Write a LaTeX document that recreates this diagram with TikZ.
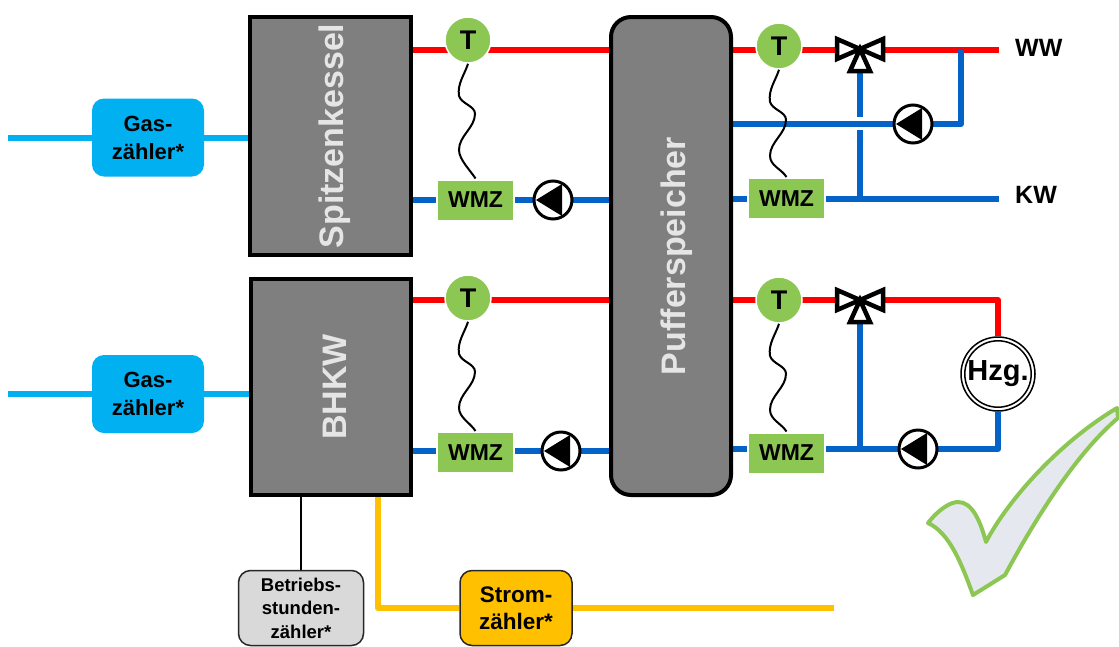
\documentclass[tikz,border=0pt]{standalone}
\usepackage{fontspec}
\usepackage{graphicx}
\setmainfont{Liberation Sans}
\usepackage{tikz}
\usetikzlibrary{backgrounds}
\definecolor{rohrrot}{HTML}{FF0000}
\definecolor{rohrblau}{HTML}{0563C8}
\definecolor{gasblau}{HTML}{00B0F0}
\definecolor{stromgelb}{HTML}{FFC000}
\definecolor{wmzgruen}{HTML}{8CC653}
\definecolor{kesselgrau}{HTML}{7F7F7F}
\definecolor{hakengrau}{HTML}{E6E8F0}
\newcommand{\fuehler}[2]{\draw[line width=2pt] (#1.south) .. controls +(-3,10) and +(-2,-12) .. ++(-9,32) .. controls +(2,8) and +(0,-8) .. ++(16,18) .. controls +(0,14) and +(0,-14) .. ++(-16,36) .. controls +(0,10) and +(-5,-8) .. (#2.north);}
\begin{document}
\begin{tikzpicture}[x=1pt,y=-1pt]
\tikzstyle{kessel}=[rectangle,draw=black,line width=4pt,fill=kesselgrau,inner sep=0pt,text=white!90!black,font=\fontsize{34}{34}\selectfont\bfseries]
\tikzstyle{zaehler}=[rectangle,rounded corners=12pt,minimum width=112pt,minimum height=78pt,inner sep=0pt,align=center,text depth=0pt,font=\fontsize{22}{28}\selectfont\bfseries]
\tikzstyle{gaszaehler}=[zaehler,fill=gasblau]
\tikzstyle{stromzaehler}=[zaehler,draw=black!85,line width=1.5pt,fill=stromgelb,minimum height=75pt,font=\fontsize{22.5}{27}\selectfont\bfseries]
\tikzstyle{stundenzaehler}=[zaehler,draw=black!85,line width=1.5pt,fill=black!15,minimum width=125pt,minimum height=75pt,font=\fontsize{18.5}{23.5}\selectfont\bfseries]
\tikzstyle{wmz}=[rectangle,draw=white,line width=2pt,fill=wmzgruen,minimum width=77pt,minimum height=41pt,inner sep=0pt,font=\fontsize{23}{23}\selectfont\bfseries]
\tikzstyle{tfuehler}=[circle,draw=white,line width=1.5pt,fill=wmzgruen,minimum size=46pt,inner sep=0pt,font=\fontsize{27}{27}\selectfont\bfseries]
\tikzstyle{pumpe}=[circle,draw=black,line width=3pt,fill=white,minimum size=38pt,inner sep=0pt,path picture={\fill[black,shift={(path picture bounding box.center)}] (-17,0) -- (9,-16) -- (9,16) -- cycle;}]
\tikzstyle{mischer}=[rectangle,minimum size=54pt,inner sep=0pt,path picture={\draw[black,fill=white,line width=4.5pt,line join=miter,shift={(path picture bounding box.center)}] (0,0) -- (-23,-10) -- (-23,10) -- cycle (0,0) -- (23,-10) -- (23,10) -- cycle (0,0) -- (-10,22) -- (10,22) -- cycle;}]
\tikzstyle{anschluss}=[anchor=west,inner sep=0pt,inner xsep=16pt,text depth=0pt,font=\fontsize{25}{25}\selectfont\bfseries]
\tikzstyle{rot}=[rohrrot,line width=6pt]
\tikzstyle{blau}=[rohrblau,line width=6pt]
\tikzstyle{gas}=[gasblau,line width=6pt]
\tikzstyle{strom}=[stromgelb,line width=6pt]
\useasboundingbox (0,0) rectangle (1119,646);
% Erzeuger und Speicher
\node[kessel,minimum width=161pt,minimum height=238pt] (spitz) at (330.5,136) {\hspace*{8pt}\rotatebox{90}{Spitzenkessel}};
\node[kessel,minimum width=160pt,minimum height=216pt] (bhkw) at (331,387) {\hspace*{7pt}\rotatebox{90}{BHKW}};
\node[kessel,rounded corners=20pt,minimum width=120pt,minimum height=478pt] (puffer) at (671,256) {\hspace*{12pt}\rotatebox{90}{Pufferspeicher}};
% Zaehler
\node[gaszaehler] (gas1) at (148,137.5) {Gas-\\zähler*};
\node[gaszaehler] (gas2) at (148,394) {Gas-\\zähler*};
\node[stundenzaehler] (stunden) at (301,608) {Betriebs-\\stunden-\\zähler*};
\node[stromzaehler] (strom) at (516,608) {Strom-\\zähler*};
% Waermemengenzaehler und Fuehler
\node[wmz] (wmz1) at (475.5,200) {WMZ};
\node[wmz] (wmz2) at (475.5,452.5) {WMZ};
\node[wmz] (wmz3) at (786.5,198.5) {WMZ};
\node[wmz] (wmz4) at (786.5,453) {WMZ};
\node[tfuehler] (t1) at (468,40) {T};
\node[tfuehler] (t2) at (468,298) {T};
\node[tfuehler] (t3) at (779,46) {T};
\node[tfuehler] (t4) at (779,300) {T};
% Pumpen und Mischer
\node[pumpe] (pumpe1) at (553,200) {};
\node[pumpe] (pumpe2) at (561,451) {};
\node[pumpe] (pumpe3) at (913,124) {};
\node[pumpe] (pumpe4) at (918,449) {};
\node[mischer] (misch1) at (860,49) {};
\node[mischer] (misch2) at (860,300) {};
\node[circle,draw=black,line width=1.5pt,fill=white,minimum size=74pt,inner sep=0pt] (hzg) at (998,374) {};
\node[circle,draw=black,line width=1.5pt,minimum size=63pt,inner sep=0pt,font=\fontsize{29}{29}\selectfont\bfseries] at (hzg) {Hzg.};
\node[anschluss] (ww) at (999,48) {WW};
\node[anschluss] (kw) at (999,195) {KW};
% freie Enden
\coordinate (gasein1) at (8,137.5);
\coordinate (gasein2) at (8,394);
\coordinate (stromaus) at (834,608);
\coordinate (knick) at (961,124);
\coordinate (rot1) at (468,50);
\coordinate (rot2) at (468,300);
\coordinate (rot3) at (999,50);
\coordinate (rot4) at (998,300);
\coordinate (stromab) at (378,497);
\coordinate (spaltO) at (860,117);
\coordinate (spaltU) at (860,130);
\begin{scope}[on background layer]
\draw[gas] (gasein1) -- (gas1) -- (spitz.west |- gas1);
\draw[gas] (gasein2) -- (gas2) -- (bhkw.west |- gas2);
\draw[rot] (spitz.east |- rot1) -- (puffer.west |- rot1);
\draw[rot] (bhkw.east |- rot2) -- (puffer.west |- rot2);
\draw[rot] (puffer.east |- rot3) -- (rot3 -| ww.west);
\draw[rot,line join=round] (puffer.east |- rot4) -- (rot4) -- (hzg.north);
\draw[blau] (spitz.east |- pumpe1) -- (puffer.west |- pumpe1);
\draw[blau] (bhkw.east |- pumpe2) -- (puffer.west |- pumpe2);
\draw[blau] (puffer.east |- wmz3) -- (wmz3 -| kw.west);
\draw[blau,line join=round] (puffer.east |- pumpe4) -- (hzg.south |- pumpe4) -- (hzg.south);
\draw[blau,line join=round] (puffer.east |- pumpe3) -- (knick) -- (knick |- rot3);
\draw[blau] (misch1.center) -- (spaltO);
\draw[blau] (spaltU) -- (spaltU |- wmz3);
\draw[blau] (misch2.center) -- (misch2.center |- pumpe4);
\draw[strom,line join=round] (bhkw.south -| stromab) -- (stromab |- strom) -- (strom) -- (stromaus);
\draw[black,line width=1.5pt] (bhkw.south -| stunden) -- (stunden.north);
\end{scope}
% Temperaturfuehler zum WMZ
\fuehler{t1}{wmz1}
\fuehler{t2}{wmz2}
\fuehler{t3}{wmz3}
\fuehler{t4}{wmz4}
% Haken
\draw[wmzgruen,line width=4pt,fill=hakengrau,line join=round] (986,542) .. controls (1005,505) and (1055,445) .. (1117,408) -- (1118,418) .. controls (1080,450) and (1040,510) .. (1005,575) -- (973,595) .. controls (962,565) and (950,533) .. (928,523) .. controls (938,510) and (950,502) .. (958,502) .. controls (972,502) and (980,520) .. (986,542) -- cycle;
\end{tikzpicture}
\end{document}
